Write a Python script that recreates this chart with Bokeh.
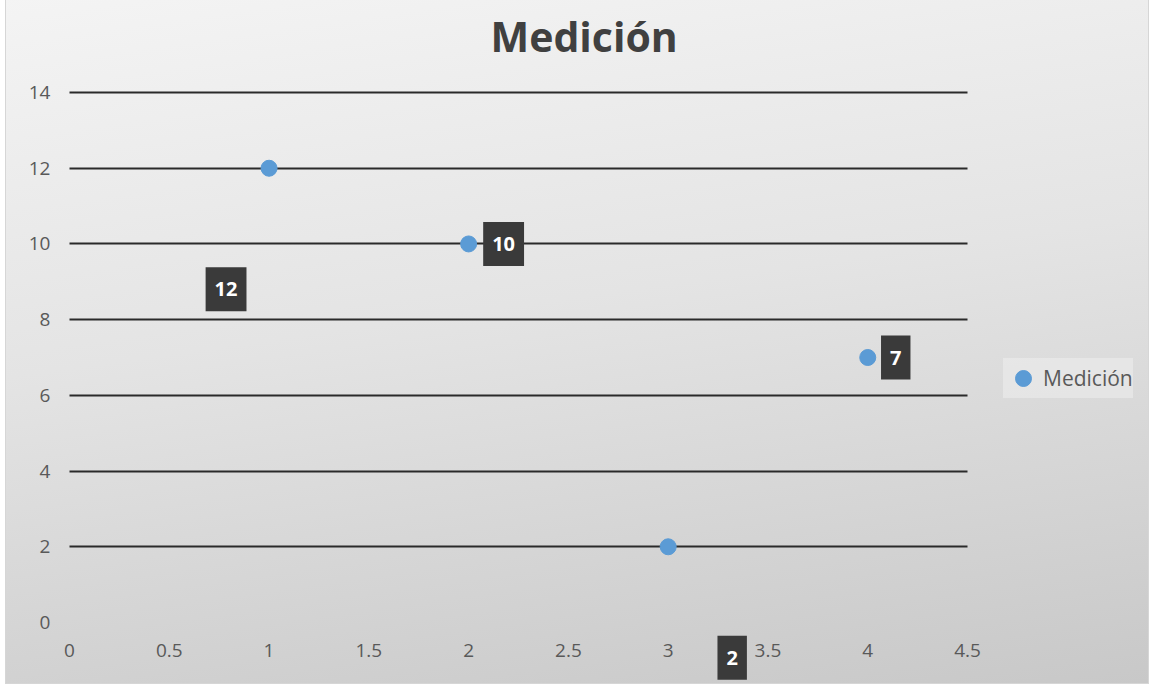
from bokeh.plotting import figure
from bokeh.models import FixedTicker, NumeralTickFormatter, Label, Legend, LegendItem, Range1d
from bokeh.embed import file_html
from bokeh.resources import INLINE

# ---- data ----
x_values = [1, 2, 3, 4]
y_values = [12, 10, 2, 7]
series_name = "Medición"
title_text = "Medición"
x_ticks = [0, 0.5, 1, 1.5, 2, 2.5, 3, 3.5, 4, 4.5]
y_ticks = [0, 2, 4, 6, 8, 10, 12, 14]

# ---- label placement (screen pixel offsets, style only) ----
label_dx = [-43, 35, 64, 28]
label_dy = [-121, 0, -111, 0]

FONT = "Open Sans"
TXT = "#595959"

p = figure(
    width=1142, height=688,
    frame_width=1121, frame_height=617,
    min_border_left=20, min_border_right=1, min_border_top=70, min_border_bottom=1,
    x_range=Range1d(-0.2154, 5.4018), y_range=Range1d(-1.585, 14.714),
    output_backend="svg", toolbar_location=None,
)
p.styles = {
    "background": "linear-gradient(172deg, #f4f4f4 0%, #e4e4e4 45%, #c8c8c8 100%)",
    "border": "1px solid #d6d6d6",
    "margin": "-6px 0 0 5px",
}
p.background_fill_alpha = 0
p.border_fill_alpha = 0
p.outline_line_color = None

p.title.text = title_text
p.title.align = "left"
p.title.vertical_align = "top"
p.title.text_font = FONT
p.title.text_font_size = "41px"
p.title.text_font_style = "bold"
p.title.text_color = "#404040"
p.title.standoff = 0
p.title.offset = 464

# axes placed at the zero lines
p.xaxis.fixed_location = 0
p.yaxis.fixed_location = 0
p.xaxis.ticker = FixedTicker(ticks=x_ticks)
p.yaxis.ticker = FixedTicker(ticks=y_ticks)
p.xaxis.formatter = NumeralTickFormatter(format="0.[0]")
for ax in (p.xaxis[0], p.yaxis[0]):
    ax.axis_line_color = None
    ax.major_tick_line_color = None
    ax.minor_tick_line_color = None
    ax.major_label_text_font = FONT
    ax.major_label_text_font_size = "19px"
    ax.major_label_text_color = TXT
p.xaxis.major_label_standoff = 16
p.yaxis.major_label_standoff = 13

p.xgrid.grid_line_color = None
p.ygrid.ticker = FixedTicker(ticks=[t for t in y_ticks if t != 0])
p.ygrid.cross_bounds = (0, 4.5)
p.ygrid.grid_line_color = "#2a2a2a"
p.ygrid.grid_line_width = 2

r = p.scatter(x_values, y_values, size=16, color="#5b9bd5", line_color="#5b9bd5")

for xv, yv, dx, dy in zip(x_values, y_values, label_dx, label_dy):
    lab = Label(
        x=xv, y=yv, x_offset=dx, y_offset=dy, text=str(yv),
        text_align="center", text_baseline="middle",
        text_font=FONT, text_font_size="20px", text_font_style="bold",
        text_color="white",
        background_fill_color="#3a3a3a", background_fill_alpha=1.0,
        padding=dict(x=9, y=15),
    )
    p.add_layout(lab)

legend = Legend(
    items=[LegendItem(label=series_name, renderers=[r])],
    location=(977, 284),
    background_fill_color="#efefef", background_fill_alpha=0.55,
    border_line_color=None,
    label_text_font=FONT, label_text_font_size="21px", label_text_color=TXT,
    glyph_width=40, glyph_height=40, padding=0, spacing=0, margin=0,
    label_standoff=0,
)
p.add_layout(legend)

open("out.html", "w").write(file_html(p, INLINE))
